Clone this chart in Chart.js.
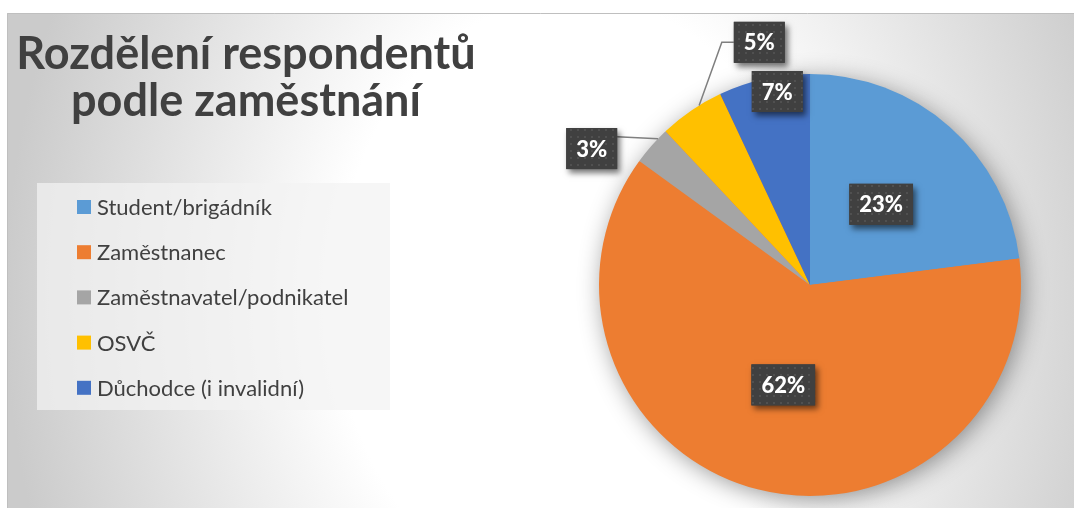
<!DOCTYPE html>
<html><head><meta charset="utf-8">
<script src="https://cdn.jsdelivr.net/npm/chart.js@4/dist/chart.umd.min.js"></script>
<style>html,body{margin:0;padding:0;background:#fff;overflow:hidden}canvas{display:block}</style>
</head><body>
<canvas id="c" width="1074" height="508"></canvas>
<script>
const titleLines = ['Rozdělení respondentů', 'podle zaměstnání'];
const categories = ['Student/brigádník', 'Zaměstnanec', 'Zaměstnavatel/podnikatel', 'OSVČ', 'Důchodce (i invalidní)'];
const shares = [23, 62, 3, 5, 7];
const valueLabels = ['23%', '62%', '3%', '5%', '7%'];
const palette = ['#5B9BD5', '#ED7D31', '#A5A5A5', '#FFC000', '#4472C4'];

const FONT = 'Lato, "Open Sans", sans-serif';
const TEXT = '#404040';

// label placement relative to slice (radius factor, angle shift in degrees)
const labelPlacement = [
  { r: 0.51, dA: 0 },
  { r: 0.49, dA: 0.6 },
  { r: 1.22, dA: -9.4, leader: 'straight' },
  { r: 1.175, dA: 22.4, leader: 'elbow' },
  { r: 0.93, dA: 3 }
];

function makePattern(ctx) {
  const p = document.createElement('canvas');
  p.width = 7; p.height = 7;
  const g = p.getContext('2d');
  g.fillStyle = '#404040'; g.fillRect(0, 0, 7, 7);
  g.fillStyle = '#505050'; g.fillRect(3, 3, 2, 2);
  return ctx.createPattern(p, 'repeat');
}

const decor = {
  id: 'decor',
  beforeDraw(chart) {
    const ctx = chart.ctx;
    ctx.save();
    // background panel with radial gradient
    const x0 = 7, y0 = 13, w = 1067, h = 495;
    const cx = 575, cy = 300, rx = 570, ry = 720;
    ctx.save();
    ctx.beginPath(); ctx.rect(x0, y0, w, h); ctx.clip();
    ctx.translate(cx, cy); ctx.scale(1, ry / rx);
    const g = ctx.createRadialGradient(0, 0, 0, 0, 0, rx);
    g.addColorStop(0, '#ffffff');
    g.addColorStop(0.42, '#ffffff');
    g.addColorStop(1, '#cbcbcb');
    ctx.fillStyle = g;
    ctx.fillRect(-cx, -cy / (ry / rx) - 2000, 4000, 8000);
    ctx.restore();
    ctx.strokeStyle = '#bfbfbf'; ctx.lineWidth = 1;
    ctx.beginPath(); ctx.moveTo(x0 + 0.5, 508); ctx.lineTo(x0 + 0.5, y0 + 0.5); ctx.lineTo(1074, y0 + 0.5); ctx.stroke();

    // title
    ctx.fillStyle = TEXT;
    ctx.textAlign = 'center'; ctx.textBaseline = 'alphabetic';
    ctx.font = 'bold 45px ' + FONT;
    ctx.fillText(titleLines[0], 246, 69);
    ctx.fillText(titleLines[1], 246, 116);

    // legend
    ctx.fillStyle = 'rgba(243,243,243,0.72)';
    ctx.fillRect(37, 183, 353, 227);
    const items = chart.data.labels;
    const colors = chart.data.datasets[0].backgroundColor;
    ctx.font = '22px ' + FONT;
    ctx.textAlign = 'left'; ctx.textBaseline = 'middle';
    items.forEach((t, i) => {
      const y = 207 + i * 45.2;
      ctx.fillStyle = colors[i];
      ctx.fillRect(77, y - 7, 14, 14);
      ctx.fillStyle = TEXT;
      ctx.fillText(t, 97, y + 1);
    });
    ctx.restore();
  },
  beforeDatasetsDraw(chart) {
    const arc = chart.getDatasetMeta(0).data[0];
    if (!arc) return;
    const ctx = chart.ctx;
    ctx.save();
    ctx.shadowColor = 'rgba(0,0,0,0.42)';
    ctx.shadowBlur = 24; ctx.shadowOffsetX = 3; ctx.shadowOffsetY = 4;
    ctx.fillStyle = '#ED7D31';
    ctx.beginPath(); ctx.arc(arc.x, arc.y, arc.outerRadius - 1, 0, Math.PI * 2); ctx.fill();
    ctx.restore();
  },
  afterDatasetsDraw(chart) {
    const ctx = chart.ctx;
    const meta = chart.getDatasetMeta(0);
    const pattern = makePattern(ctx);
    ctx.save();
    ctx.font = '900 22px ' + FONT;
    meta.data.forEach((arc, i) => {
      const pl = labelPlacement[i];
      const R = arc.outerRadius;
      const mid = (arc.startAngle + arc.endAngle) / 2;
      const a = mid + pl.dA * Math.PI / 180;
      const lx = arc.x + Math.cos(a) * R * pl.r;
      const ly = arc.y + Math.sin(a) * R * pl.r;
      const txt = valueLabels[i];
      const tw = ctx.measureText(txt).width;
      const bw = tw + 20, bh = 41;
      const bx = lx - bw / 2, by = ly - bh / 2;
      if (pl.leader) {
        const ea = mid + 2.5 * Math.PI / 180;
        const ex = arc.x + Math.cos(ea) * R, ey = arc.y + Math.sin(ea) * R;
        ctx.save();
        ctx.strokeStyle = '#7f7f7f'; ctx.lineWidth = 1.5;
        ctx.beginPath();
        if (pl.leader === 'straight') {
          const yy = Math.max(by + 6, Math.min(by + bh - 6, ey - 2));
          ctx.moveTo(ex, ey); ctx.lineTo(bx + bw, yy);
        } else {
          ctx.moveTo(ex, ey); ctx.lineTo(bx - 12, ly); ctx.lineTo(bx, ly);
        }
        ctx.stroke();
        ctx.restore();
      }
      ctx.save();
      ctx.shadowColor = 'rgba(0,0,0,0.55)';
      ctx.shadowBlur = 6; ctx.shadowOffsetX = 3; ctx.shadowOffsetY = 4;
      ctx.fillStyle = '#404040';
      ctx.fillRect(bx, by, bw, bh);
      ctx.restore();
      ctx.fillStyle = pattern;
      ctx.fillRect(bx, by, bw, bh);
      ctx.fillStyle = '#ffffff';
      ctx.textAlign = 'center'; ctx.textBaseline = 'middle';
      ctx.fillText(txt, lx, ly + 1);
    });
    ctx.restore();
  }
};

new Chart(document.getElementById('c'), {
  type: 'pie',
  data: {
    labels: categories,
    datasets: [{ data: shares, backgroundColor: palette, borderWidth: 0 }]
  },
  options: {
    responsive: false,
    devicePixelRatio: 1,
    animation: false,
    layout: { padding: { left: 599, right: 53, top: 74, bottom: 12 } },
    plugins: { legend: { display: false }, title: { display: false }, tooltip: { enabled: false } }
  },
  plugins: [decor]
});
</script>
</body></html>
